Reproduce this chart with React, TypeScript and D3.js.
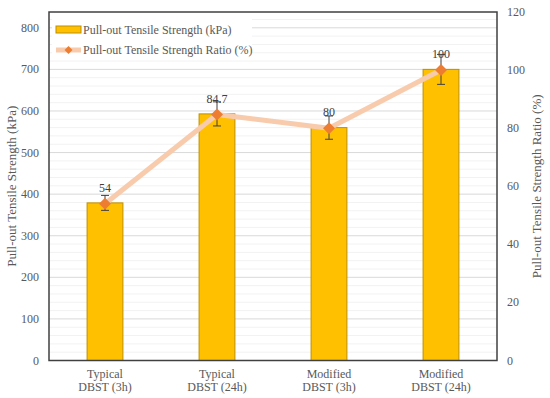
import * as d3 from "d3";

const categories = [
  ["Typical", "DBST (3h)"],
  ["Typical", "DBST (24h)"],
  ["Modified", "DBST (3h)"],
  ["Modified", "DBST (24h)"],
];
const strength = [379, 593, 560, 700];
const strengthErr = [18, 29, 28, 36];
const ratio = [54, 84.7, 80, 100];
const ratioLabels = ["54", "84.7", "80", "100"];
const leftTicks = [0, 100, 200, 300, 400, 500, 600, 700, 800];
const rightTicks = [0, 20, 40, 60, 80, 100, 120];

const W = 550;
const H = 398;
const margin = { top: 12, right: 53, bottom: 37.5, left: 49 };
const serif = "Liberation Serif";
const textColor = "#595959";

export default function App() {
  const innerW = W - margin.left - margin.right;
  const innerH = H - margin.top - margin.bottom;
  const L = margin.left;
  const T = margin.top;

  // scales in absolute page coordinates (text is drawn without a transformed group)
  const x = d3
    .scaleBand<number>()
    .domain(d3.range(categories.length))
    .range([L, L + innerW])
    .paddingInner(0.68)
    .paddingOuter(0.34);
  const yLeft = d3.scaleLinear().domain([0, 838]).range([T + innerH, T]);
  const yRight = d3.scaleLinear().domain([0, 120]).range([T + innerH, T]);

  const minor = d3.range(0, 840, 20).filter((v) => v % 100 !== 0);
  const cx = (i: number) => (x(i) ?? 0) + x.bandwidth() / 2;

  const line = d3
    .line<number>()
    .x((_, i) => cx(i))
    .y((d) => yRight(d));

  const diamond = (r: number) => `M0,${-r}L${r},0L0,${r}L${-r},0Z`;

  return (
    <svg width={W} height={H} style={{ position: "absolute", left: 0, top: 0, background: "#fff" }}>
      {minor.map((v) => (
        <line key={"m" + v} x1={L} x2={L + innerW} y1={yLeft(v)} y2={yLeft(v)} stroke="#f2f2f2" strokeWidth={1} />
      ))}
      {leftTicks.map((v) => (
        <line key={"g" + v} x1={L} x2={L + innerW} y1={yLeft(v)} y2={yLeft(v)} stroke="#d9d9d9" strokeWidth={1} />
      ))}

      {strength.map((v, i) => (
        <rect
          key={"b" + i}
          x={x(i)}
          y={yLeft(v)}
          width={x.bandwidth()}
          height={yLeft(0) - yLeft(v)}
          fill="#FFC000"
          stroke="#BF9000"
          strokeWidth={1}
        />
      ))}

      <path d={line(ratio) ?? ""} fill="none" stroke="#F8CBAD" strokeWidth={5} strokeLinejoin="round" />

      {strength.map((v, i) => {
        const y0 = yLeft(v - strengthErr[i]);
        const y1 = yLeft(v + strengthErr[i]);
        return (
          <g key={"e" + i} stroke="#404040" strokeWidth={1}>
            <line x1={cx(i)} x2={cx(i)} y1={y0} y2={y1} />
            <line x1={cx(i) - 4} x2={cx(i) + 4} y1={y0} y2={y0} />
            <line x1={cx(i) - 4} x2={cx(i) + 4} y1={y1} y2={y1} />
          </g>
        );
      })}

      {ratio.map((v, i) => (
        <path key={"d" + i} d={diamond(6)} transform={`translate(${cx(i)},${yRight(v)})`} fill="#ED7D31" />
      ))}

      {ratio.map((v, i) => (
        <text key={"l" + i} x={cx(i)} y={yRight(v) - 12} textAnchor="middle" fontSize={12} fill="#404040" fontFamily={serif}>
          {ratioLabels[i]}
        </text>
      ))}

      {/* legend */}
      <rect x={L + 3} y={T + 6} width={200} height={42} fill="#fff" />
      <rect x={L + 7} y={T + 14} width={25} height={7} fill="#FFC000" stroke="#BF9000" strokeWidth={1} />
      <text x={L + 34} y={T + 22} fontSize={12} fill={textColor} fontFamily={serif}>
        Pull-out Tensile Strength (kPa)
      </text>
      <line x1={L + 7} x2={L + 32} y1={T + 38} y2={T + 38} stroke="#F8CBAD" strokeWidth={5} />
      <path d={diamond(4)} transform={`translate(${L + 19.5},${T + 38})`} fill="#ED7D31" />
      <text x={L + 34} y={T + 42} fontSize={12} fill={textColor} fontFamily={serif}>
        Pull-out Tensile Strength Ratio (%)
      </text>

      <rect x={L} y={T} width={innerW} height={innerH} fill="none" stroke="#404040" strokeWidth={1.5} />

      {leftTicks.map((v) => (
        <text key={"lt" + v} x={L - 10} y={yLeft(v) + 4} textAnchor="end" fontSize={12} fill={textColor} fontFamily={serif}>
          {v}
        </text>
      ))}
      {rightTicks.map((v) => (
        <text key={"rt" + v} x={L + innerW + 10} y={yRight(v) + 4} fontSize={12} fill={textColor} fontFamily={serif}>
          {v}
        </text>
      ))}
      {categories.map((c, i) => (
        <g key={"c" + i}>
          <text x={cx(i)} y={T + innerH + 17} textAnchor="middle" fontSize={12} fill={textColor} fontFamily={serif}>
            {c[0]}
          </text>
          <text x={cx(i)} y={T + innerH + 30} textAnchor="middle" fontSize={12} fill={textColor} fontFamily={serif}>
            {c[1]}
          </text>
        </g>
      ))}

      <text
        x={L - 33}
        y={T + innerH / 2}
        transform={`rotate(-90, ${L - 33}, ${T + innerH / 2})`}
        textAnchor="middle"
        fontSize={13}
        fill={textColor}
        fontFamily={serif}
      >
        Pull-out Tensile Strength (kPa)
      </text>
      <text
        x={L + innerW + 44}
        y={T + innerH / 2}
        transform={`rotate(-90, ${L + innerW + 44}, ${T + innerH / 2})`}
        textAnchor="middle"
        fontSize={13}
        fill={textColor}
        fontFamily={serif}
      >
        Pull-out Tensile Strength Ratio (%)
      </text>
    </svg>
  );
}
